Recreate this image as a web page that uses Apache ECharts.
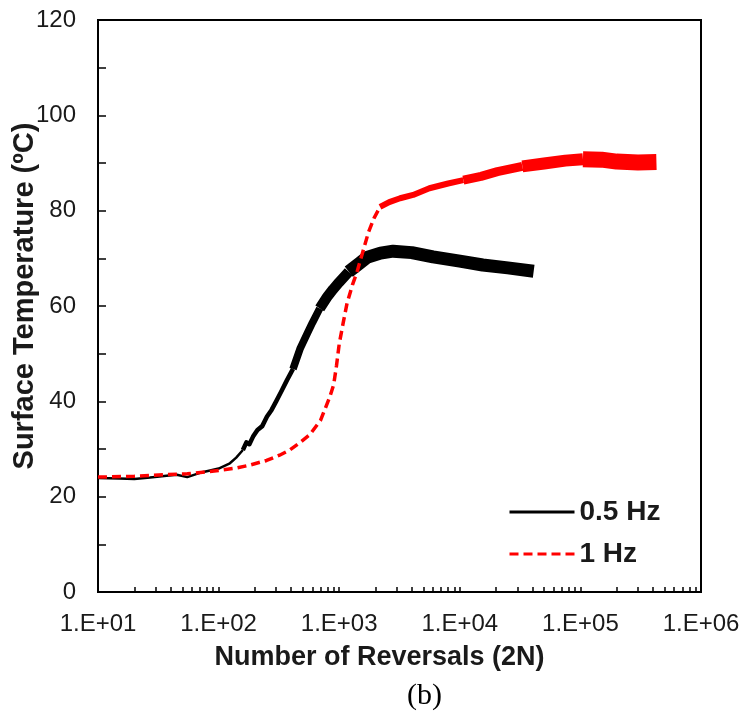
<!DOCTYPE html>
<html>
<head>
<meta charset="utf-8">
<script src="https://cdn.jsdelivr.net/npm/echarts@6/dist/echarts.min.js"></script>
<style>
  html, body { margin: 0; padding: 0; background: #fff; }
  #chart { width: 742px; height: 715px; }
</style>
</head>
<body>
<div id="chart"></div>
<script>
// ---- Data ----
const seriesNames = ['0.5 Hz', '1 Hz'];

// 0.5 Hz: number of reversals and surface temperature (centre of the noisy trace)
const blackX = [10, 15, 20, 27, 37, 45, 55, 70, 85, 100, 124, 140, 159, 170, 180, 193, 210, 230, 252, 275, 300, 330, 370, 414, 473, 550, 600, 690, 800, 890, 1000, 1200, 1480, 1700, 2200, 2800, 4000, 6000, 10000, 15500, 25000, 41000];
const blackY = [23.9, 23.8, 23.7, 24.0, 24.4, 24.6, 24.1, 25.0, 25.5, 25.9, 27.0, 28.2, 29.8, 31.4, 31.0, 32.6, 34.0, 34.8, 36.8, 38.2, 40.0, 42.0, 44.5, 46.8, 51.0, 54.5, 56.5, 59.5, 62.0, 63.5, 65.0, 67.2, 69.0, 70.2, 71.1, 71.5, 71.2, 70.3, 69.4, 68.6, 68.0, 67.3];

// 1 Hz
const redX = [10, 20, 35, 55, 80, 100, 140, 180, 250, 320, 390, 470, 570, 700, 835, 900, 950, 1000, 1080, 1160, 1290, 1400, 1575, 1750, 1950, 2180, 2600, 3200, 4100, 5600, 8000, 10700, 15000, 20500, 33000, 50000, 75000, 105000, 150000, 200000, 300000, 427000];
const redY = [24.1, 24.3, 24.6, 24.8, 25.2, 25.5, 26.0, 26.6, 27.6, 28.7, 29.8, 31.3, 33.0, 36.0, 40.9, 43.5, 47.5, 52.0, 56.5, 60.5, 64.5, 67.0, 71.5, 75.5, 78.5, 80.8, 81.8, 82.6, 83.3, 84.7, 85.7, 86.4, 87.2, 88.2, 89.3, 89.9, 90.5, 90.8, 90.7, 90.3, 90.1, 90.2];

// Axis ticks
const xDecades = [10, 100, 1000, 10000, 100000, 1000000];
const xTickLabels = ['1.E+01', '1.E+02', '1.E+03', '1.E+04', '1.E+05', '1.E+06'];
const yTickLabels = ['0', '20', '40', '60', '80', '100', '120'];

// ---- Build ----
function pairs(xs, ys, lo, hi) {
  const out = [];
  for (let i = 0; i < xs.length; i++) {
    if (xs[i] >= lo && xs[i] <= hi) out.push([xs[i], ys[i]]);
  }
  return out;
}
const minorTickValues = [];
for (let d = 0; d < xDecades.length - 1; d++) {
  for (let m = 2; m <= 10; m++) minorTickValues.push(xDecades[d] * m);
}
const labelMap = {};
xDecades.forEach((v, i) => { labelMap[v] = xTickLabels[i]; });

// segments: [lo, hi, width, dashed]
const blackSegs = [[10, 159, 2.5], [159, 414, 4.5], [414, 690, 7.5], [690, 1200, 10.5], [1200, 41000, 13]];
const redSegs = [[10, 2180, 3.5, true], [2180, 10700, 6], [10700, 33000, 9], [33000, 105000, 12], [105000, 427000, 16]];

const series = [];
blackSegs.forEach(s => {
  series.push({
    name: seriesNames[0], type: 'line', showSymbol: false, symbol: 'none',
    data: pairs(blackX, blackY, s[0], s[1]),
    lineStyle: { color: '#000', width: s[2], cap: 'butt', join: 'round' },
    itemStyle: { color: '#000' },
    z: 2, silent: true, animation: false
  });
});
redSegs.forEach(s => {
  series.push({
    name: seriesNames[1], type: 'line', showSymbol: false, symbol: 'none',
    data: pairs(redX, redY, s[0], s[1]),
    lineStyle: { color: '#f00', width: s[2], type: s[3] ? [9, 5] : 'solid', cap: 'butt', join: 'round' },
    itemStyle: { color: '#f00' },
    z: 3, silent: true, animation: false
  });
});

const chart = echarts.init(document.getElementById('chart'), null, { renderer: 'canvas' });
const txtColor = '#1a1a1a';
chart.setOption({
  animation: false,
  backgroundColor: '#fff',
  textStyle: { fontFamily: 'Liberation Sans, Arial, sans-serif' },
  title: {
    text: '(b)', left: 407, top: 681, padding: 0,
    textStyle: { fontFamily: 'Liberation Serif, Times New Roman, serif', fontSize: 30, fontWeight: 'normal', color: '#000' }
  },
  grid: { left: 98, right: 41, top: 20, bottom: 123, outerBoundsMode: 'none', containLabel: false, show: true, borderColor: '#000', borderWidth: 2, backgroundColor: 'transparent' },
  legend: {
    orient: 'vertical', left: 508, top: 498, padding: 0,
    itemWidth: 65, itemHeight: 30, itemGap: 14,
    itemStyle: { opacity: 0, color: 'transparent', borderWidth: 0 },
    textStyle: { fontSize: 28, fontWeight: 'bold', color: txtColor, fontFamily: 'Liberation Sans, Arial, sans-serif' },
    data: [
      { name: seriesNames[0], lineStyle: { width: 3 }, itemStyle: { opacity: 0 } },
      { name: seriesNames[1], lineStyle: { width: 3 }, itemStyle: { opacity: 0 } }
    ],
    selectedMode: false
  },
  xAxis: {
    type: 'log', logBase: 10, min: 10, max: 1000000,
    name: 'Number of Reversals (2N)', nameLocation: 'middle', nameGap: 52, nameMoveOverlap: false,
    nameTextStyle: { fontSize: 27, fontWeight: 'bold', color: txtColor, padding: [0, 40, 0, 0] },
    axisLine: { show: true, onZero: false, lineStyle: { color: '#000', width: 2 } },
    axisTick: { show: true, inside: true, length: 5, lineStyle: { color: '#000', width: 1.5 }, customValues: minorTickValues },
    minorTick: { show: false },
    splitLine: { show: false },
    axisLabel: {
      fontSize: 24, color: txtColor, margin: 20,
      customValues: xDecades,
      formatter: v => labelMap[v] || labelMap[Math.round(v)] || ''
    }
  },
  yAxis: {
    type: 'value', min: 0, max: 120, interval: 20,
    name: 'Surface Temperature (ºC)', nameLocation: 'middle', nameGap: 59, nameMoveOverlap: false,
    nameTextStyle: { fontSize: 29, fontWeight: 'bold', color: txtColor, padding: [0, 0, 0, 20] },
    axisLine: { show: true, lineStyle: { color: '#000', width: 2 } },
    axisTick: { show: true, inside: true, length: 8, lineStyle: { color: '#000', width: 1.5 } },
    minorTick: { show: true, splitNumber: 2, length: 8, lineStyle: { color: '#000', width: 1.5 } },
    splitLine: { show: false },
    axisLabel: {
      fontSize: 24, color: txtColor, margin: 22,
      formatter: (v) => yTickLabels[Math.round(v / 20)] ?? String(v)
    }
  },
  series: series
});
</script>
</body>
</html>
